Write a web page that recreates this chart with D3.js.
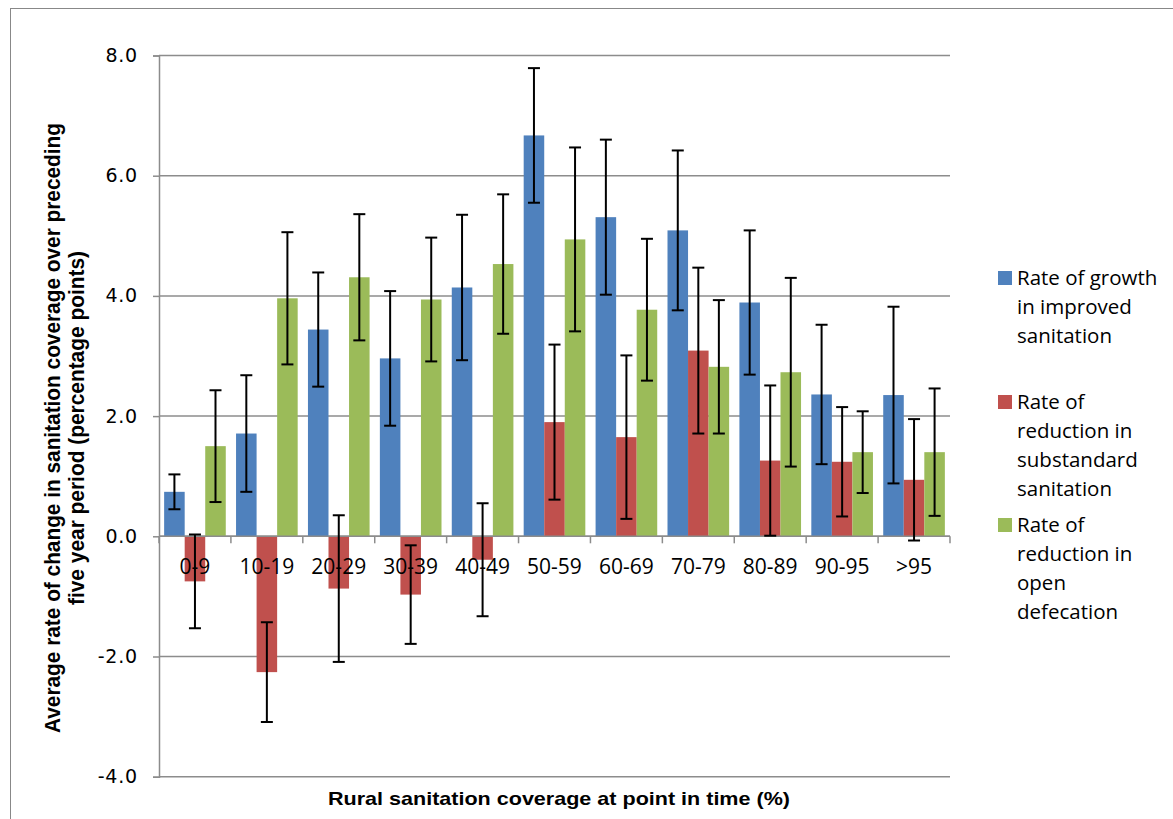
<!DOCTYPE html>
<html><head><meta charset="utf-8">
<script src="https://cdn.jsdelivr.net/npm/d3@7"></script>
<style>body{margin:0;background:#fff;} svg{display:block;}</style>
</head><body>
<script>
const categories = ["0-9","10-19","20-29","30-39","40-49","50-59","60-69","70-79","80-89","90-95",">95"];
const seriesNames = ["Rate of growth in improved sanitation","Rate of reduction in substandard sanitation","Rate of reduction in open defecation"];
const legendLines = [["Rate of growth","in improved","sanitation"],["Rate of","reduction in","substandard","sanitation"],["Rate of","reduction in","open","defecation"]];
const improved = [0.74,1.71,3.44,2.96,4.14,6.67,5.31,5.09,3.89,2.36,2.35];
const improvedErr = [0.29,0.97,0.95,1.12,1.21,1.12,1.29,1.33,1.20,1.16,1.47];
const substandard = [-0.75,-2.26,-0.87,-0.97,-0.39,1.90,1.65,3.09,1.26,1.24,0.94];
const substandardErr = [0.78,0.83,1.22,0.82,0.94,1.29,1.36,1.38,1.25,0.91,1.01];
const openDef = [1.50,3.96,4.31,3.94,4.53,4.94,3.77,2.82,2.73,1.40,1.40];
const openDefErr = [0.93,1.10,1.05,1.03,1.16,1.53,1.18,1.11,1.57,0.68,1.06];
const yTicks = [-4,-2,0,2,4,6,8];
const yTickLabels = ["-4.0","-2.0","0.0","2.0","4.0","6.0","8.0"];
const colors = ["#4F81BD","#C0504D","#9BBB59"];

(function(){
const W = 1173, H = 819;
const svg = d3.select("body").append("svg").attr("width", W).attr("height", H);
svg.append("rect").attr("x",10.5).attr("y",8.5).attr("width",W+20).attr("height",H+20)
  .attr("fill","none").attr("stroke","#888").attr("stroke-width",1);

const pLeft = 159, pRight = 950, pTop = 55.5, pBottom = 776.7;
const x = d3.scaleBand().domain(categories).range([pLeft,pRight]).paddingInner(0).paddingOuter(0);
const y = d3.scaleLinear().domain([-4,8]).range([pBottom, pTop]);
const xs = d3.scaleBand().domain([0,1,2]).range([0, x.bandwidth()]).paddingInner(0).paddingOuter(0.25);

svg.append("g").selectAll("line").data(yTicks).join("line")
  .attr("x1",pLeft).attr("x2",pRight).attr("y1",d=>y(d)).attr("y2",d=>y(d))
  .attr("stroke","#8c8c8c").attr("stroke-width",1.5);

const yAxis = svg.append("g").attr("transform",`translate(${pLeft},0)`)
  .call(d3.axisLeft(y).tickValues(yTicks).tickFormat((d,i)=>yTickLabels[i]).tickSize(6).tickPadding(15));
yAxis.select(".domain").attr("stroke","#8c8c8c").attr("stroke-width",1.5);
yAxis.selectAll(".tick line").attr("stroke","#8c8c8c").attr("stroke-width",1.5);
yAxis.selectAll("text").attr("font-family","DejaVu Sans").attr("font-size",19).attr("letter-spacing",0.8).attr("fill","#000");

const data = [ [improved,improvedErr], [substandard,substandardErr], [openDef,openDefErr] ];

data.forEach(([vals,errs],si)=>{
  svg.append("g").selectAll("rect").data(vals).join("rect")
    .attr("x",(d,i)=>x(categories[i])+xs(si))
    .attr("width",xs.bandwidth())
    .attr("y",d=>y(Math.max(0,d)))
    .attr("height",d=>Math.abs(y(d)-y(0)))
    .attr("fill",colors[si]);
});

const xAxisG = svg.append("g").attr("transform",`translate(0,${y(0)})`);
xAxisG.append("line").attr("x1",pLeft).attr("x2",pRight).attr("stroke","#8c8c8c").attr("stroke-width",1.5);
const bounds = categories.map(c=>x(c)).concat([pRight]);
xAxisG.selectAll("line.tk").data(bounds).join("line").attr("class","tk")
  .attr("x1",d=>d).attr("x2",d=>d).attr("y1",0).attr("y2",7).attr("stroke","#8c8c8c").attr("stroke-width",1.5);

data.forEach(([vals,errs],si)=>{
  const g = svg.append("g").attr("stroke","#000").attr("stroke-width",2);
  vals.forEach((v,i)=>{
    const cx = x(categories[i])+xs(si)+xs.bandwidth()/2;
    const y1 = y(v+errs[i]), y2 = y(v-errs[i]);
    g.append("line").attr("x1",cx).attr("x2",cx).attr("y1",y1).attr("y2",y2);
    g.append("line").attr("x1",cx-6).attr("x2",cx+6).attr("y1",y1).attr("y2",y1);
    g.append("line").attr("x1",cx-6).attr("x2",cx+6).attr("y1",y2).attr("y2",y2);
  });
});

svg.append("g").selectAll("text").data(categories).join("text")
  .attr("x",d=>x(d)+x.bandwidth()/2).attr("y",y(0)+38)
  .attr("text-anchor","middle").attr("font-family","Open Sans").attr("font-size",21).attr("fill","#000")
  .text(d=>d);

svg.append("text").attr("x",559).attr("y",805).attr("text-anchor","middle")
  .attr("font-family","Liberation Sans").attr("font-weight","bold").attr("font-size",19)
  .attr("textLength",462).attr("lengthAdjust","spacingAndGlyphs")
  .text("Rural sanitation coverage at point in time (%)");
const yt = svg.append("text").attr("transform",`translate(0,428) rotate(-90)`)
  .attr("text-anchor","middle").attr("font-family","Liberation Sans")
  .attr("font-weight","bold").attr("font-size",22);
yt.append("tspan").attr("x",0).attr("y",60).attr("textLength",610).attr("lengthAdjust","spacingAndGlyphs")
  .text("Average rate of change in sanitation coverage over preceding");
yt.append("tspan").attr("x",0).attr("y",84).attr("textLength",354).attr("lengthAdjust","spacingAndGlyphs")
  .text("five year period (percentage points)");

const legendTop = [278, 402, 525];
legendLines.forEach((lines,si)=>{
  const g = svg.append("g");
  g.append("rect").attr("x",998).attr("y",legendTop[si]-7).attr("width",14).attr("height",14).attr("fill",colors[si]);
  lines.forEach((t,li)=>{
    g.append("text").attr("x",1017).attr("y",legendTop[si]+li*29+7)
      .attr("font-family","Open Sans").attr("font-size",20.5).attr("fill","#000").text(t);
  });
});
})();
</script>
</body></html>
